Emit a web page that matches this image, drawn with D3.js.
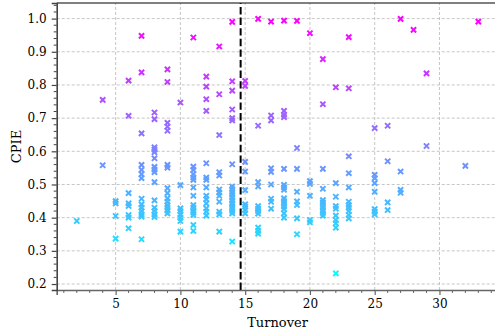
<!DOCTYPE html>
<html>
<head>
<meta charset="utf-8">
<script src="https://cdn.jsdelivr.net/npm/d3@7"></script>
<style>
  html, body { margin: 0; padding: 0; background: #fff; }
  svg { display: block; overflow: hidden; }
  text { font-family: "DejaVu Serif", serif; fill: #000; }
</style>
</head>
<body>
<svg id="chart" width="495" height="335"></svg>
<script>
// Turnover (integer column) and the CPIE values observed at that turnover
const turnover = [2, 4, 5, 6, 7, 8, 9, 10, 11, 12, 13, 14, 15, 16, 17, 18, 19, 20, 21, 22, 23, 25, 26, 27, 28, 29, 32, 33];
const cpie = [
  [0.39],
  [0.755, 0.558],
  [0.45, 0.443, 0.405, 0.337],
  [0.813, 0.707, 0.474, 0.443, 0.435, 0.408, 0.40, 0.368],
  [0.948, 0.838, 0.654, 0.559, 0.544, 0.531, 0.519, 0.457, 0.44, 0.43, 0.42, 0.41, 0.403, 0.335],
  [0.717, 0.697, 0.612, 0.605, 0.597, 0.579, 0.553, 0.545, 0.537, 0.507, 0.452, 0.43, 0.42, 0.41, 0.402],
  [0.847, 0.809, 0.686, 0.674, 0.662, 0.559, 0.551, 0.489, 0.474, 0.458, 0.448, 0.438, 0.43, 0.422, 0.413],
  [0.747, 0.498, 0.428, 0.42, 0.41, 0.40, 0.39, 0.358],
  [0.943, 0.554, 0.544, 0.531, 0.521, 0.514, 0.491, 0.466, 0.438, 0.43, 0.422, 0.415, 0.408, 0.378, 0.36],
  [0.825, 0.795, 0.757, 0.722, 0.564, 0.521, 0.514, 0.491, 0.466, 0.456, 0.443, 0.428, 0.418, 0.406],
  [0.916, 0.772, 0.649, 0.537, 0.527, 0.485, 0.476, 0.466, 0.448, 0.418, 0.41, 0.358],
  [0.99, 0.811, 0.783, 0.726, 0.70, 0.693, 0.561, 0.494, 0.486, 0.477, 0.469, 0.46, 0.452, 0.443, 0.435, 0.428, 0.42, 0.413, 0.328],
  [0.812, 0.797, 0.568, 0.539, 0.483, 0.44, 0.433, 0.423, 0.413],
  [0.999, 0.677, 0.507, 0.494, 0.435, 0.427, 0.42, 0.412, 0.37, 0.36, 0.352],
  [0.991, 0.708, 0.693, 0.549, 0.538, 0.5, 0.457, 0.448, 0.427],
  [0.994, 0.722, 0.71, 0.703, 0.547, 0.499, 0.491, 0.484, 0.458, 0.45, 0.442, 0.434, 0.426, 0.413, 0.40],
  [0.993, 0.61, 0.547, 0.478, 0.449, 0.438, 0.398, 0.35],
  [0.956, 0.51, 0.502, 0.466, 0.393, 0.386],
  [0.878, 0.742, 0.547, 0.487, 0.453, 0.446, 0.438, 0.43, 0.422, 0.414, 0.406],
  [0.793, 0.504, 0.463, 0.435, 0.427, 0.406, 0.393, 0.383, 0.37, 0.232],
  [0.944, 0.79, 0.585, 0.534, 0.491, 0.448, 0.438, 0.43, 0.42, 0.408, 0.398],
  [0.67, 0.529, 0.519, 0.504, 0.478, 0.426, 0.418, 0.41],
  [0.677, 0.57, 0.446, 0.423],
  [0.999, 0.539, 0.484, 0.475],
  [0.966],
  [0.835, 0.616],
  [0.556],
  [0.991]
];
const turnoverCut = 14.65;
const xTickValues = [5, 10, 15, 20, 25, 30];
const yTickValues = [0.2, 0.3, 0.4, 0.5, 0.6, 0.7, 0.8, 0.9, 1.0];

const W = 495, H = 335;
const MARGIN = { top: 3, right: -3.4, bottom: 45, left: 56.7 };

const points = turnover.flatMap((t, i) => cpie[i].map(v => ({ t, v })));

const svg = d3.select('#chart');

const x = d3.scaleLinear().domain([0.45, 34.55]).range([MARGIN.left, W - MARGIN.right]);
const y = d3.scaleLinear().domain([0.182, 1.047]).range([H - MARGIN.bottom, MARGIN.top]);
const color = d3.scaleSequential(d3.interpolateRgb('#00ffff', '#ff00ff'))
  .domain(d3.extent(points, d => d.v));

const x0 = x.range()[0], x1 = x.range()[1];
const y0 = y.range()[0], y1 = y.range()[1];

// Dashed grid at the major ticks
const grid = svg.append('g')
  .attr('stroke', '#b8b8b8')
  .attr('stroke-width', 0.8)
  .attr('stroke-dasharray', '3 2');
grid.selectAll('.gx').data(xTickValues).join('line')
  .attr('x1', d => x(d)).attr('x2', d => x(d))
  .attr('y1', y0).attr('y2', y1);
grid.selectAll('.gy').data(yTickValues).join('line')
  .attr('x1', x0).attr('x2', x1)
  .attr('y1', d => y(d)).attr('y2', d => y(d));

// Markers
const h = 2.6;
svg.append('g')
  .selectAll('path')
  .data(points)
  .join('path')
  .attr('transform', d => `translate(${x(d.t)},${y(d.v)})`)
  .attr('d', `M${-h},${-h}L${h},${h}M${h},${-h}L${-h},${h}`)
  .attr('fill', 'none')
  .attr('stroke', d => color(d.v))
  .attr('stroke-width', 2);

// Vertical cut line
svg.append('line')
  .attr('x1', x(turnoverCut)).attr('x2', x(turnoverCut))
  .attr('y1', y0).attr('y2', y1)
  .attr('stroke', '#000')
  .attr('stroke-width', 2)
  .attr('stroke-dasharray', '7.4 3.2');

// Top spine
svg.append('line')
  .attr('x1', x0).attr('x2', x1)
  .attr('y1', y1).attr('y2', y1)
  .attr('stroke', '#000').attr('stroke-width', 1);

// Bottom axis
const xAxis = d3.axisBottom(x)
  .tickValues(xTickValues)
  .tickFormat(d3.format('d'))
  .tickSize(5)
  .tickPadding(4);
const gx = svg.append('g')
  .attr('transform', `translate(0,${y0})`)
  .call(xAxis);
gx.select('.domain').attr('stroke', '#666').attr('stroke-width', 1.6);
gx.selectAll('.tick line').attr('stroke', '#666').attr('stroke-width', 1.2);
gx.selectAll('text').attr('font-size', 12).attr('font-family', 'DejaVu Serif');

const xMinor = d3.range(1, 35).filter(d => !xTickValues.includes(d));
svg.append('g')
  .selectAll('line')
  .data(xMinor)
  .join('line')
  .attr('x1', d => x(d)).attr('x2', d => x(d))
  .attr('y1', y0).attr('y2', y0 + 3)
  .attr('stroke', '#666').attr('stroke-width', 1);

// Left axis
const yAxis = d3.axisLeft(y)
  .tickValues(yTickValues)
  .tickFormat(d3.format('.1f'))
  .tickSize(5)
  .tickPadding(5);
const gy = svg.append('g')
  .attr('transform', `translate(${x0},0)`)
  .call(yAxis);
gy.select('.domain').attr('stroke', '#444').attr('stroke-width', 1.6);
gy.selectAll('.tick line').attr('stroke', '#444').attr('stroke-width', 1.2);
gy.selectAll('text').attr('font-size', 12).attr('font-family', 'DejaVu Serif');

const yMinor = d3.range(0.2, 1.05, 0.02)
  .map(d => Math.round(d * 100) / 100)
  .filter(d => Math.round(d * 100) % 10 !== 0);
svg.append('g')
  .selectAll('line')
  .data(yMinor)
  .join('line')
  .attr('x1', x0 - 3).attr('x2', x0)
  .attr('y1', d => y(d)).attr('y2', d => y(d))
  .attr('stroke', '#444').attr('stroke-width', 1);

// Axis labels
svg.append('text')
  .attr('x', (x0 + 498.4) / 2)
  .attr('y', 326.5)
  .attr('text-anchor', 'middle')
  .attr('font-size', 13)
  .text('Turnover');

svg.append('text')
  .attr('transform', `translate(20.5,${(y0 + y1) / 2}) rotate(-90)`)
  .attr('text-anchor', 'middle')
  .attr('font-size', 13)
  .text('CPIE');
</script>
</body>
</html>
